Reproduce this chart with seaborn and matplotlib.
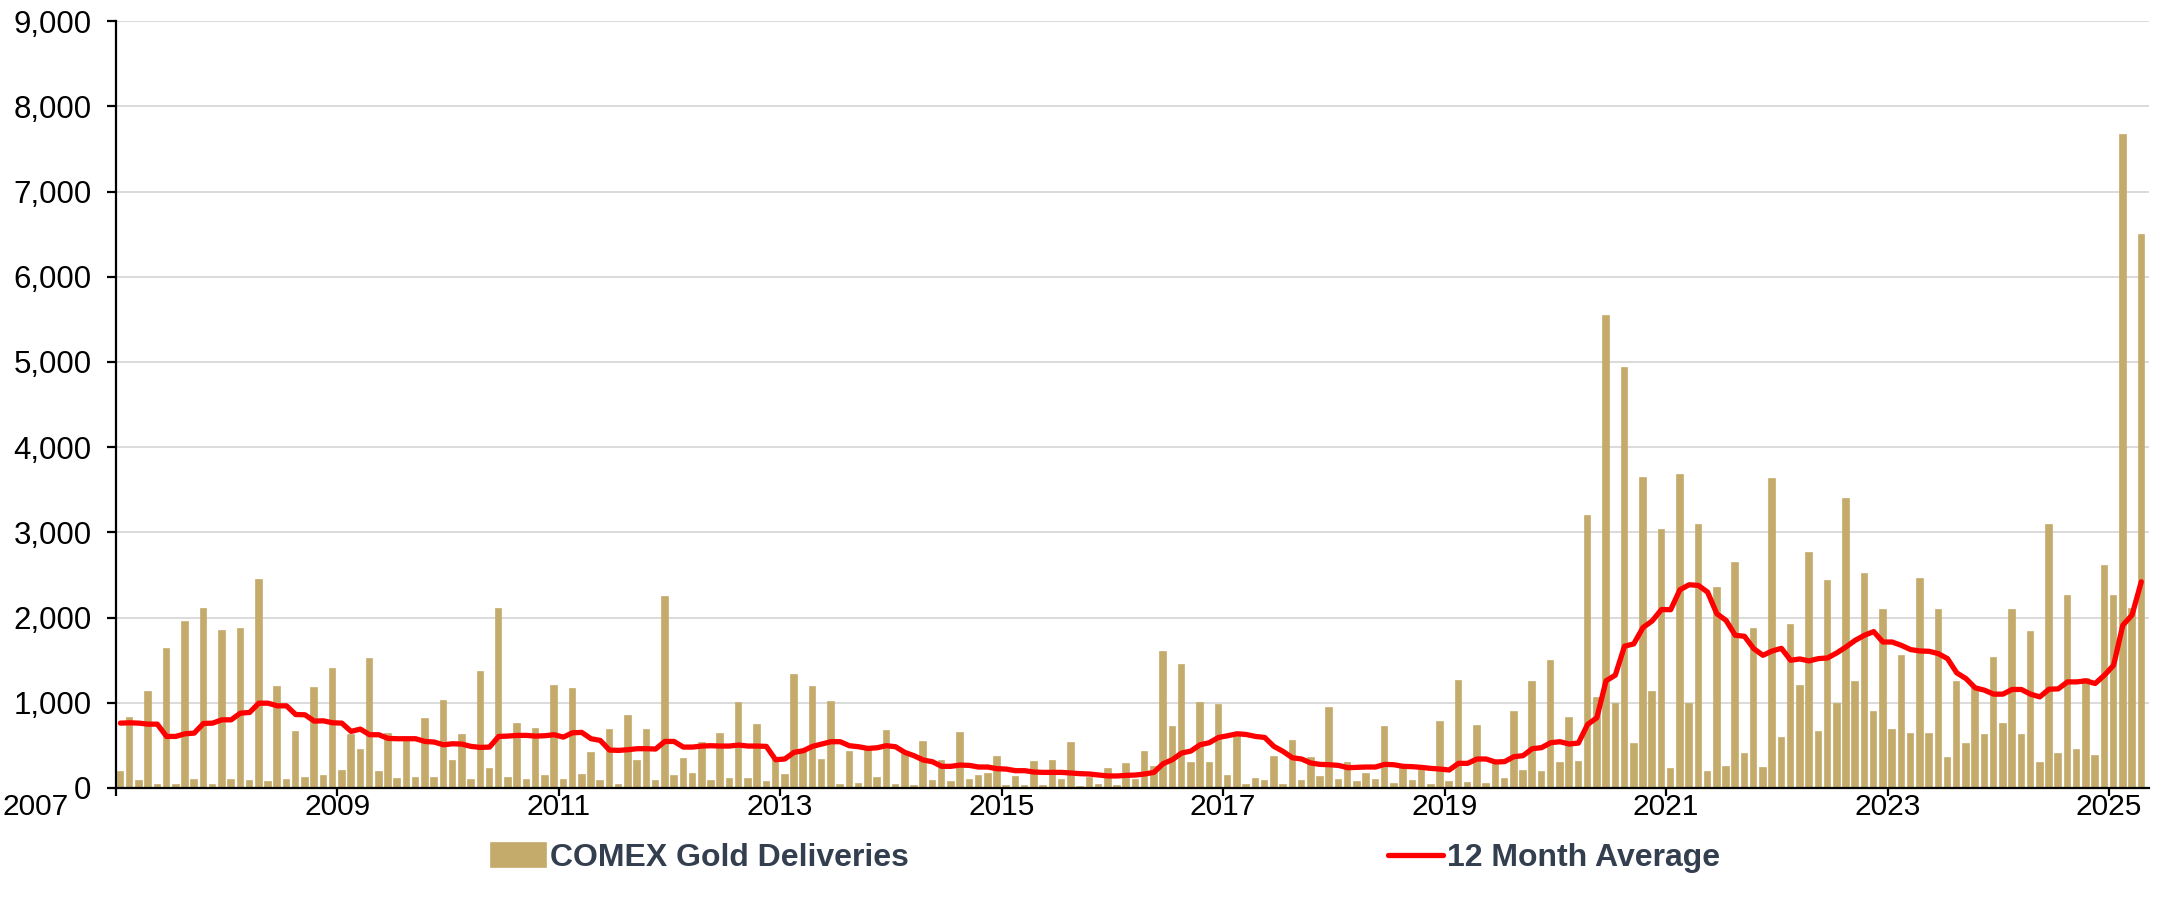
import matplotlib
matplotlib.use("Agg")
import matplotlib.pyplot as plt
import matplotlib.ticker as mticker
from matplotlib.transforms import ScaledTranslation
import seaborn as sns
import numpy as np
import pandas as pd

# monthly COMEX gold deliveries, Jan 2007 .. Apr 2025 (one row per year)
deliveries = [
    183, 816, 86, 1128, 30, 1632, 30, 1952, 90, 2096, 40, 1846,      # 2007
    90, 1870, 78, 2436, 70, 1183, 98, 660, 117, 1175, 144, 1397,     # 2008
    203, 620, 449, 1518, 183, 628, 101, 589, 121, 808, 121, 1023,    # 2009
    320, 617, 94, 1366, 226, 2104, 113, 746, 98, 687, 137, 1202,     # 2010
    94, 1159, 148, 410, 82, 679, 35, 847, 316, 679, 82, 2236,        # 2011
    141, 340, 160, 527, 82, 632, 101, 1003, 101, 738, 66, 330,       # 2012
    150, 1327, 420, 1187, 328, 1011, 35, 425, 51, 464, 113, 671,     # 2013
    31, 398, 20, 539, 86, 320, 66, 644, 98, 144, 164, 359,           # 2014
    20, 133, 20, 300, 20, 316, 94, 531, 12, 117, 35, 226,            # 2015
    27, 277, 94, 418, 242, 1596, 710, 1444, 293, 995, 293, 976,      # 2016
    144, 620, 35, 109, 78, 363, 35, 546, 78, 351, 125, 941,          # 2017
    90, 289, 74, 168, 94, 710, 43, 254, 82, 207, 39, 773,            # 2018
    74, 1254, 59, 727, 51, 300, 109, 887, 195, 1242, 191, 1496,      # 2019
    289, 820, 309, 3188, 1051, 5535, 980, 4926, 512, 3637, 1125, 3031,   # 2020
    222, 3669, 988, 3084, 191, 2346, 246, 2639, 398, 1862, 234, 3626,    # 2021
    585, 1916, 1198, 2760, 660, 2428, 980, 3392, 1245, 2506, 886, 2092,  # 2022
    675, 1546, 628, 2451, 628, 2084, 347, 1241, 511, 1171, 617, 1530,    # 2023
    746, 2092, 621, 1835, 289, 3087, 394, 2252, 441, 1284, 379, 2600,    # 2024
    2256, 7661, 2099, 6486,                                              # 2025
]

# 12 month average
avg_12m = [
    761, 765, 761, 749, 749, 605, 605, 636, 644, 757, 761, 800,
    800, 878, 886, 995, 995, 964, 964, 862, 859, 785, 788, 765,
    761, 664, 691, 625, 625, 582, 578, 578, 578, 546, 539, 507,
    519, 515, 488, 476, 480, 605, 609, 617, 617, 609, 613, 625,
    597, 648, 652, 578, 558, 445, 441, 449, 461, 461, 457, 546,
    546, 480, 480, 492, 496, 492, 492, 504, 492, 492, 488, 332,
    340, 418, 437, 488, 515, 543, 543, 496, 484, 464, 472, 496,
    484, 418, 379, 328, 308, 254, 254, 269, 265, 246, 246, 226,
    222, 203, 203, 187, 183, 183, 183, 176, 168, 164, 152, 141,
    141, 148, 152, 164, 183, 285, 332, 410, 433, 507, 531, 593,
    613, 636, 628, 605, 593, 488, 429, 355, 340, 293, 277, 273,
    265, 238, 242, 246, 246, 277, 273, 254, 250, 242, 230, 222,
    211, 289, 289, 340, 340, 305, 309, 367, 379, 461, 473, 531,
    543, 516, 527, 746, 824, 1258, 1324, 1664, 1691, 1883, 1961, 2094,
    2092, 2326, 2385, 2377, 2299, 2045, 1967, 1792, 1780, 1635, 1557, 1608,
    1639, 1499, 1514, 1491, 1518, 1526, 1585, 1655, 1733, 1792, 1835, 1713,
    1713, 1674, 1624, 1608, 1604, 1577, 1518, 1351, 1284, 1175, 1148, 1101,
    1101, 1156, 1156, 1101, 1069, 1159, 1163, 1245, 1245, 1257, 1226, 1323,
    1440, 1910, 2030, 2420,
]

tick_years = list(range(2007, 2026, 2))
bar_color = "#C4AA6B"
legend_color = "#333F4F"

months = pd.date_range("2007-01-01", periods=len(deliveries), freq="MS")
df = pd.DataFrame({
    "t": months.year + (months.month - 0.5) / 12,
    "deliveries": deliveries,
    "avg": avg_12m,
})

sns.set_theme(style="white")
plt.rcParams["font.family"] = ["Liberation Sans", "DejaVu Sans"]

fig = plt.figure(figsize=(21.64, 9.17), dpi=100)
ax = fig.add_axes([0.0535, 0.1407, 0.9395, 0.8363])

sns.barplot(data=df, x="t", y="deliveries", native_scale=True, color=bar_color,
            saturation=1, width=0.6, errorbar=None, ax=ax,
            edgecolor=bar_color, linewidth=1.2,
            label="COMEX Gold Deliveries")
sns.lineplot(data=df, x="t", y="avg", color="#FF0000", lw=3.8, ax=ax,
             label="12 Month Average")

ax.set_xlim(2007, 2025.36)
ax.set_ylim(0, 9000)
ax.set_xticks(tick_years)
ax.set_yticks(range(0, 9001, 1000))
ax.yaxis.set_major_formatter(mticker.StrMethodFormatter("{x:,.0f}"))
ax.set_xlabel("")
ax.set_ylabel("")

ax.grid(axis="y", color="#D4D4D4", lw=1.2)
ax.set_axisbelow(True)
for side in ["top", "right"]:
    ax.spines[side].set_visible(False)
for side in ["left", "bottom"]:
    ax.spines[side].set_color("black")
    ax.spines[side].set_linewidth(1.6)

ax.tick_params(axis="y", direction="out", length=6.5, width=1.6, pad=11,
               labelsize=22.5, colors="black", left=True)
ax.tick_params(axis="x", direction="out", length=6, width=1.6, pad=-2.5,
               labelsize=21.5, colors="black", bottom=True)

# first year label sits left of the axis corner, clear of the "0"
first = ax.xaxis.get_major_ticks()[0].label1
first.set_transform(first.get_transform()
                    + ScaledTranslation(-0.80, 0, fig.dpi_scale_trans))

handles, labels = ax.get_legend_handles_labels()
ax.get_legend().remove()
# bars first, then the average line
order = [labels.index("COMEX Gold Deliveries"), labels.index("12 Month Average")]
fig.legend([handles[i] for i in order], [labels[i] for i in order],
           loc="center left", bbox_to_anchor=(0.227, 0.064),
           ncol=2, frameon=False, columnspacing=15.0, handlelength=1.72,
           handleheight=0.78, handletextpad=0.12, borderpad=0, borderaxespad=0,
           prop={"weight": "bold", "size": 23}, labelcolor=legend_color)

fig.savefig("out.png", dpi=100)
